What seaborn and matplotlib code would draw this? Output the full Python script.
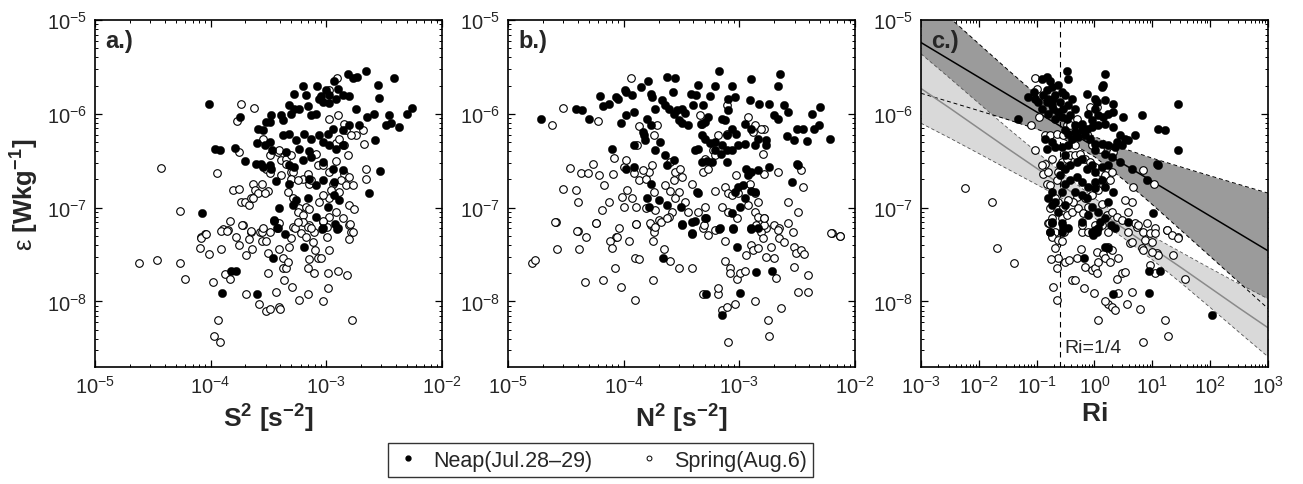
import numpy as np
import pandas as pd
import matplotlib
matplotlib.use("Agg")
import matplotlib.pyplot as plt
from matplotlib.lines import Line2D
from matplotlib.ticker import FixedLocator, NullFormatter
import seaborn as sns

# ---------------- data (log10 values) ----------------
# panel a: (log10 S^2, log10 eps)
neap_a_log = [
    (-4.017, -5.896), (-3.744, -6.035), (-3.965, -6.371), (-3.922, -6.382), (-3.793, -6.360),
    (-3.701, -6.506), (-4.072, -7.062), (-3.592, -6.159), (-3.549, -6.169), (-3.477, -6.017),
    (-3.491, -6.088), (-3.520, -6.088), (-3.391, -6.017), (-3.376, -6.063), (-3.598, -6.311),
    (-3.534, -6.336), (-3.491, -6.300), (-3.468, -6.389), (-3.606, -6.538), (-3.563, -6.530),
    (-3.549, -6.566), (-3.491, -6.541), (-3.477, -6.584), (-3.434, -6.718), (-3.325, -6.743),
    (-3.276, -5.787), (-3.204, -5.705), (-3.175, -5.804), (-3.080, -5.705), (-3.046, -5.815),
    (-3.003, -5.751), (-2.974, -5.804), (-2.931, -5.645), (-2.902, -5.733), (-2.816, -5.574),
    (-2.773, -5.617), (-2.736, -5.609), (-2.658, -5.539), (-2.549, -5.698), (-2.414, -5.620),
    (-3.319, -5.911), (-3.276, -5.946), (-3.304, -5.999), (-3.233, -5.946), (-3.161, -5.918),
    (-3.132, -6.010), (-3.089, -5.999), (-3.060, -5.840), (-3.032, -5.875), (-2.974, -5.882),
    (-2.917, -5.840), (-2.859, -5.804), (-2.802, -5.811), (-3.376, -6.229), (-3.319, -6.212),
    (-3.261, -6.283), (-3.190, -6.212), (-3.132, -6.265), (-3.060, -6.229), (-2.988, -6.212),
    (-2.945, -6.159), (-2.859, -6.176), (-2.802, -6.123), (-2.744, -5.946), (-2.715, -6.123),
    (-2.644, -6.035), (-2.586, -5.999), (-2.543, -5.833), (-3.348, -6.406), (-3.233, -6.371),
    (-3.146, -6.399), (-3.032, -6.300), (-2.974, -6.336), (-2.917, -6.371), (-2.859, -6.336),
    (-3.319, -6.548), (-3.276, -6.566), (-3.204, -6.495), (-3.132, -6.460), (-3.032, -6.513),
    (-2.945, -6.584), (-2.859, -6.601), (-3.146, -6.690), (-3.089, -6.761), (-3.032, -6.708),
    (-2.931, -6.725), (-2.894, -6.920), (-2.629, -6.839), (-2.537, -6.608), (-2.577, -6.283),
    (-2.486, -6.123), (-2.442, -6.095), (-2.371, -6.141), (-2.299, -5.999), (-2.256, -5.935),
    (-2.457, -6.010), (-3.405, -7.002), (-3.290, -6.973), (-3.261, -6.920), (-3.161, -6.902),
    (-3.089, -7.097), (-3.032, -7.221), (-2.988, -6.991), (-2.931, -6.867), (-2.902, -7.221),
    (-3.448, -7.133), (-3.420, -7.221), (-3.454, -7.143), (-3.425, -7.221), (-3.353, -7.281),
    (-3.460, -7.533), (-3.195, -7.416), (-3.040, -7.232), (-2.922, -7.179), (-2.908, -7.228),
    (-3.822, -7.675), (-3.779, -7.675), (-3.902, -7.912), (-3.598, -7.923),
]
spring_a_log = [
    (-4.431, -6.573), (-3.942, -6.626), (-4.267, -7.033), (-3.736, -5.896), (-3.629, -5.939),
    (-3.770, -6.081), (-3.756, -6.406), (-3.807, -6.807), (-3.756, -6.803), (-3.635, -6.750),
    (-3.615, -6.814), (-3.554, -6.750), (-3.500, -6.824), (-3.736, -6.945), (-3.707, -6.945),
    (-3.672, -6.973), (-3.649, -6.895), (-4.052, -7.285), (-4.080, -7.310), (-3.894, -7.232),
    (-3.850, -7.239), (-3.836, -7.143), (-3.721, -7.186), (-3.649, -7.257), (-3.572, -7.257),
    (-3.491, -7.257), (-3.549, -6.265), (-3.491, -6.442), (-3.520, -6.584), (-3.491, -6.626),
    (-3.419, -6.406), (-3.391, -6.495), (-3.348, -6.477), (-3.304, -6.619), (-2.911, -5.620),
    (-2.974, -5.741), (-2.902, -6.017), (-2.974, -6.059), (-2.845, -6.105), (-2.830, -6.176),
    (-3.089, -6.424), (-3.075, -6.541), (-3.032, -6.541), (-2.974, -6.619), (-2.917, -6.506),
    (-2.816, -6.442), (-2.845, -6.637), (-2.802, -6.672), (-2.874, -6.708), (-2.945, -6.743),
    (-2.830, -6.761), (-2.773, -6.761), (-2.888, -6.832), (-2.960, -6.814), (-2.974, -6.902),
    (-3.032, -6.867), (-3.060, -6.938), (-3.146, -6.743), (-3.204, -6.690), (-3.161, -6.637),
    (-3.132, -6.708), (-3.290, -6.619), (-3.304, -6.690), (-3.247, -6.708), (-3.233, -7.002),
    (-3.290, -6.902), (-3.333, -6.832), (-3.247, -7.044), (-3.204, -7.080), (-3.175, -6.991),
    (-3.146, -7.019), (-3.146, -7.186), (-3.103, -7.257), (-3.032, -7.150), (-2.974, -7.097),
    (-2.917, -7.044), (-2.802, -6.973), (-2.759, -7.019), (-2.802, -7.186), (-2.787, -7.257),
    (-2.687, -6.176), (-2.672, -6.318), (-2.744, -6.229), (-2.787, -6.229), (-2.658, -6.584),
    (-2.658, -6.690), (-2.917, -6.307), (-2.845, -6.329), (-2.888, -6.265), (-3.405, -6.389),
    (-3.348, -6.530), (-3.304, -6.442), (-3.391, -6.654), (-3.592, -6.849), (-3.534, -6.849),
    (-3.635, -6.902), (-4.618, -7.593), (-4.468, -7.558), (-4.261, -7.593), (-4.218, -7.760),
    (-4.095, -7.434), (-4.080, -7.328), (-4.037, -7.285), (-4.017, -7.498), (-3.914, -7.441),
    (-3.908, -7.246), (-3.859, -7.246), (-3.980, -7.788), (-3.937, -8.195), (-3.974, -8.373),
    (-3.917, -8.436), (-3.873, -7.710), (-3.836, -7.763), (-3.784, -7.310), (-3.756, -7.398),
    (-3.727, -7.186), (-3.698, -7.505), (-3.692, -7.923), (-3.669, -7.338), (-3.649, -7.250),
    (-3.641, -7.441), (-3.583, -8.029), (-3.557, -7.257), (-3.554, -7.356), (-3.520, -7.356),
    (-3.520, -8.107), (-3.491, -8.079), (-3.503, -7.480), (-3.500, -7.699), (-3.434, -7.901),
    (-3.411, -8.054), (-3.405, -7.441), (-3.399, -8.079), (-3.376, -7.533), (-3.371, -7.639),
    (-3.362, -7.770), (-3.348, -7.639), (-3.333, -7.583), (-3.319, -7.416), (-3.304, -7.328),
    (-3.296, -7.841), (-3.290, -7.204), (-3.267, -7.221), (-3.233, -7.983), (-3.218, -7.274),
    (-3.204, -7.150), (-3.175, -7.310), (-3.161, -7.204), (-3.155, -7.646), (-3.146, -7.551),
    (-3.161, -7.923), (-3.132, -7.221), (-3.118, -7.370), (-3.109, -7.699), (-3.098, -7.452),
    (-3.075, -7.540), (-3.046, -7.533), (-3.026, -7.993), (-2.997, -7.204), (-2.997, -7.310),
    (-2.988, -7.859), (-2.988, -7.699), (-2.974, -7.452), (-2.902, -7.675), (-2.822, -7.717),
    (-2.779, -8.195), (-2.773, -7.264), (-2.796, -7.179), (-2.802, -7.335), (-2.859, -7.115),
    (-3.032, -7.143), (-3.247, -7.150), (-3.405, -7.168), (-3.549, -7.221),
]

# panel b: (log10 N^2, log10 eps)
neap_b_log = [
    (-4.711, -6.052), (-4.411, -5.946), (-4.360, -5.957), (-4.297, -6.052), (-4.206, -5.811),
    (-4.183, -5.918), (-4.126, -5.893), (-4.068, -5.822), (-4.046, -5.840), (-3.988, -5.741),
    (-3.983, -5.769), (-3.926, -5.804), (-3.854, -5.716), (-3.788, -5.645), (-3.626, -5.609),
    (-3.554, -5.617), (-3.760, -5.787), (-3.754, -5.822), (-3.574, -5.769), (-3.668, -5.857),
    (-3.726, -5.946), (-3.640, -5.911), (-3.611, -5.946), (-3.568, -5.999), (-3.540, -5.964),
    (-3.497, -5.946), (-3.468, -5.988), (-3.417, -5.787), (-3.374, -5.804), (-3.354, -5.698),
    (-3.397, -5.903), (-3.311, -5.911), (-3.254, -5.811), (-3.211, -5.705), (-3.174, -5.546),
    (-3.068, -5.705), (-3.097, -5.840), (-3.040, -5.822), (-3.097, -5.964), (-3.154, -6.052),
    (-3.126, -6.070), (-3.268, -6.035), (-3.297, -6.088), (-3.331, -6.105), (-3.440, -6.123),
    (-3.497, -6.095), (-3.520, -6.070), (-2.903, -5.627), (-2.646, -5.574), (-2.668, -5.705),
    (-2.911, -5.857), (-2.826, -5.893), (-2.740, -5.893), (-2.697, -6.010), (-2.611, -5.903),
    (-2.668, -6.059), (-2.583, -5.981), (-2.368, -5.999), (-2.303, -5.928), (-2.311, -6.123),
    (-2.354, -6.159), (-2.503, -6.159), (-2.454, -6.166), (-2.588, -6.236), (-2.531, -6.283),
    (-2.417, -6.293), (-2.217, -6.272), (-2.954, -6.112), (-2.897, -6.159), (-2.840, -6.265),
    (-2.768, -6.283), (-2.768, -6.336), (-2.868, -6.329), (-2.954, -6.318), (-3.011, -6.336),
    (-3.068, -6.389), (-3.111, -6.389), (-3.160, -6.424), (-3.211, -6.300), (-3.254, -6.311),
    (-3.297, -6.265), (-3.326, -6.229), (-3.354, -6.371), (-3.383, -6.389), (-3.211, -6.389),
    (-3.154, -6.336), (-3.111, -6.229), (-3.068, -6.159), (-3.026, -6.212), (-3.911, -6.336),
    (-4.103, -6.371), (-3.911, -5.981), (-3.977, -6.010), (-4.026, -6.098), (-3.797, -6.052),
    (-3.768, -6.123), (-3.826, -6.229), (-3.817, -6.283), (-3.683, -6.300), (-3.726, -6.389),
    (-3.834, -6.194), (-3.640, -6.442), (-3.626, -6.548), (-3.568, -6.495), (-3.911, -6.566),
    (-3.983, -6.584), (-3.326, -6.513), (-3.283, -6.506), (-3.240, -6.513), (-3.103, -6.513),
    (-2.940, -6.584), (-2.897, -6.619), (-2.840, -6.601), (-2.740, -6.566), (-2.497, -6.548),
    (-2.548, -6.725), (-2.503, -6.530), (-2.926, -6.654), (-3.040, -6.832), (-3.011, -6.778),
    (-2.968, -6.761), (-2.954, -6.902), (-2.897, -6.824), (-2.868, -6.832), (-3.354, -6.849),
    (-3.368, -6.832), (-3.503, -6.991), (-3.626, -6.973), (-3.697, -6.920), (-3.797, -6.902),
    (-3.768, -6.743), (-3.783, -6.991), (-3.068, -7.062), (-2.997, -6.991), (-2.897, -7.221),
    (-2.840, -7.221), (-3.054, -7.221), (-3.168, -7.221), (-3.297, -7.115), (-3.411, -7.150),
    (-3.497, -7.186), (-3.411, -7.274), (-3.497, -7.179), (-3.383, -7.143), (-3.411, -7.285),
    (-3.288, -7.115), (-3.174, -7.228), (-3.054, -7.232), (-2.903, -7.232), (-3.020, -7.423),
    (-3.663, -7.540), (-2.860, -7.682), (-2.720, -7.675), (-3.291, -7.923), (-2.997, -7.912),
    (-3.154, -8.149),
]
spring_b_log = [
    (-3.940, -5.620), (-4.526, -5.939), (-4.617, -6.116), (-4.226, -6.081), (-3.868, -6.130),
    (-3.711, -6.116), (-3.740, -6.229), (-3.883, -6.336), (-4.083, -6.470), (-4.468, -6.573),
    (-4.263, -6.530), (-4.368, -6.626), (-4.311, -6.626), (-4.217, -6.654), (-4.091, -6.637),
    (-4.526, -6.803), (-4.411, -6.814), (-4.397, -6.945), (-4.168, -6.761), (-4.188, -7.026),
    (-4.126, -6.938), (-4.588, -7.150), (-4.397, -7.250), (-4.240, -7.168), (-3.968, -6.814),
    (-4.011, -6.885), (-3.926, -6.902), (-3.997, -6.991), (-3.897, -6.991), (-3.811, -7.009),
    (-3.731, -7.026), (-3.740, -6.832), (-3.868, -6.708), (-3.811, -6.690), (-3.783, -6.619),
    (-3.754, -6.548), (-3.834, -6.594), (-3.911, -6.626), (-3.997, -6.566), (-3.983, -6.495),
    (-3.597, -6.513), (-3.554, -6.619), (-3.511, -6.591), (-3.497, -6.672), (-3.568, -6.708),
    (-3.526, -6.832), (-3.597, -6.824), (-3.554, -6.902), (-3.468, -6.938), (-3.440, -7.044),
    (-3.583, -7.044), (-3.611, -7.097), (-3.697, -7.133), (-3.768, -7.186), (-3.897, -7.179),
    (-4.040, -7.221), (-4.068, -7.310), (-3.740, -7.221), (-3.326, -6.105), (-3.340, -6.017),
    (-3.183, -6.229), (-3.111, -6.212), (-3.106, -5.911), (-3.226, -6.389), (-3.311, -6.619),
    (-3.268, -6.584), (-3.211, -6.824), (-3.126, -6.778), (-3.097, -6.849), (-3.068, -6.867),
    (-3.011, -6.849), (-3.026, -6.654), (-2.911, -6.743), (-2.868, -6.849), (-2.840, -6.938),
    (-2.926, -6.973), (-2.868, -7.044), (-2.840, -7.097), (-2.783, -7.115), (-2.697, -7.186),
    (-2.654, -7.221), (-2.768, -7.221), (-2.583, -6.945), (-2.497, -7.044), (-2.540, -7.257),
    (-2.468, -6.601), (-2.454, -6.778), (-2.668, -6.619), (-2.783, -6.637), (-2.797, -6.424),
    (-2.783, -6.159), (-2.883, -6.194), (-2.926, -6.035), (-2.868, -6.123), (-2.811, -6.159),
    (-3.211, -7.239), (-3.311, -7.221), (-3.354, -7.044), (-3.297, -6.991), (-3.154, -6.991),
    (-3.097, -7.044), (-2.197, -7.274), (-2.126, -7.299), (-3.640, -6.761), (-3.297, -6.477),
    (-3.211, -6.442), (-3.411, -6.743), (-4.597, -7.150), (-4.403, -7.250), (-4.326, -7.310),
    (-4.240, -7.168), (-4.574, -7.441), (-4.383, -7.441), (-4.797, -7.593), (-4.768, -7.558),
    (-4.331, -7.788), (-4.177, -7.770), (-4.120, -7.356), (-4.097, -7.434), (-4.054, -7.310),
    (-4.077, -7.639), (-4.026, -7.841), (-3.954, -7.356), (-3.903, -7.533), (-3.868, -7.551),
    (-3.903, -7.983), (-3.897, -7.179), (-3.774, -7.168), (-3.740, -7.257), (-3.748, -7.356),
    (-3.731, -7.204), (-3.674, -7.150), (-3.651, -7.441), (-3.746, -7.770), (-3.597, -7.565),
    (-3.526, -7.639), (-3.411, -7.639), (-3.626, -7.115), (-3.303, -7.186), (-3.274, -7.292),
    (-3.311, -7.923), (-3.183, -7.923), (-3.183, -7.859), (-3.148, -8.089), (-3.103, -8.054),
    (-3.097, -8.436), (-3.126, -7.356), (-3.126, -7.568), (-3.083, -7.639), (-3.077, -7.699),
    (-3.040, -8.029), (-3.017, -7.763), (-2.997, -7.699), (-2.954, -7.675), (-2.940, -7.505),
    (-2.897, -7.398), (-2.868, -7.993), (-2.883, -7.452), (-2.854, -7.186), (-2.840, -7.434),
    (-2.811, -7.257), (-2.797, -7.328), (-2.788, -7.186), (-2.768, -7.522), (-2.754, -8.195),
    (-2.740, -8.373), (-2.726, -7.416), (-2.697, -7.533), (-2.683, -7.753), (-2.668, -7.239),
    (-2.654, -7.328), (-2.640, -8.071), (-2.611, -7.363), (-2.583, -7.168), (-2.526, -7.416),
    (-2.526, -7.629), (-2.511, -7.487), (-2.491, -7.894), (-2.468, -7.452), (-2.440, -7.498),
    (-2.406, -7.717), (-2.406, -7.901), (-2.206, -7.274), (-2.126, -7.299), (-3.017, -7.115),
    (-2.783, -7.115),
]

# panel c: (log10 Ri, log10 eps)
neap_c_log = [
    (-1.316, -6.052), (-1.155, -5.822), (-1.039, -5.769), (-1.028, -5.840), (-0.913, -5.627),
    (-0.826, -5.609), (-0.768, -5.645), (-0.740, -5.716), (-0.970, -5.875), (-0.884, -5.804),
    (-0.826, -5.751), (-0.797, -5.840), (-0.740, -5.911), (-0.682, -5.804), (-0.624, -5.698),
    (-0.566, -5.769), (-0.509, -5.804), (-0.451, -5.911), (-0.393, -5.840), (-0.336, -5.946),
    (-0.480, -5.539), (-0.463, -5.627), (-0.711, -5.946), (-0.624, -5.981), (-0.538, -5.946),
    (-0.566, -6.035), (-0.480, -6.052), (-0.422, -6.017), (-0.682, -6.052), (-0.797, -5.999),
    (-0.913, -5.946), (-0.826, -5.875), (-0.711, -5.840), (-0.595, -5.875), (-0.134, -5.787),
    (0.010, -5.840), (0.183, -5.574), (0.154, -5.698), (0.126, -5.709), (0.039, -5.875),
    (0.183, -5.857), (0.327, -5.893), (0.010, -5.946), (-0.105, -5.999), (-0.047, -6.070),
    (0.068, -6.017), (0.154, -6.035), (0.241, -5.999), (0.327, -5.981), (0.500, -6.035),
    (0.818, -6.010), (1.106, -6.159), (1.221, -6.169), (1.440, -5.896), (1.452, -6.382),
    (0.702, -6.222), (0.529, -6.265), (0.385, -6.300), (0.472, -6.336), (0.587, -6.283),
    (0.356, -6.353), (0.241, -6.336), (0.126, -6.318), (0.010, -6.318), (-0.076, -6.265),
    (-0.163, -6.229), (-0.220, -6.176), (-0.278, -6.247), (-0.336, -6.194), (-0.393, -6.265),
    (-0.451, -6.212), (-0.509, -6.176), (-0.336, -6.123), (-0.220, -6.105), (-0.134, -6.159),
    (-0.047, -6.141), (0.068, -6.123), (0.183, -6.105), (0.327, -6.141), (0.443, -6.229),
    (0.010, -6.389), (0.183, -6.424), (0.299, -6.460), (0.443, -6.513), (0.645, -6.584),
    (0.904, -6.708), (1.077, -6.530), (1.106, -6.548), (-0.855, -6.265), (-0.740, -6.300),
    (-0.682, -6.353), (-0.826, -6.371), (-0.566, -6.353), (-0.451, -6.336), (-0.509, -6.442),
    (-0.595, -6.548), (-0.509, -6.584), (-0.422, -6.548), (-0.307, -6.513), (-0.220, -6.477),
    (-0.134, -6.584), (-0.047, -6.548), (0.010, -6.619), (0.126, -6.566), (0.241, -6.548),
    (0.126, -6.708), (0.010, -6.725), (-0.105, -6.778), (-0.220, -6.725), (-0.307, -6.672),
    (-0.422, -6.708), (-0.509, -6.743), (-0.595, -6.654), (-0.740, -6.832), (-0.797, -6.902),
    (-0.740, -6.973), (-0.682, -6.938), (-0.624, -7.044), (-0.566, -6.832), (-0.509, -6.973),
    (-0.336, -6.832), (-0.220, -6.867), (-0.134, -6.902), (-0.047, -6.991), (0.010, -6.796),
    (0.183, -6.778), (0.327, -6.832), (0.241, -6.938), (0.068, -7.044), (-0.105, -7.080),
    (-0.220, -7.150), (-0.451, -7.221), (-0.566, -7.257), (-0.740, -7.150), (-0.768, -7.257),
    (-0.047, -7.257), (0.068, -7.221), (0.183, -7.115), (0.356, -7.221), (0.587, -7.150),
    (1.019, -7.062), (-0.740, -7.168), (-0.566, -7.168), (-0.538, -7.204), (-0.174, -7.540),
    (-0.019, -7.292), (0.010, -7.239), (0.039, -7.257), (0.183, -7.416), (0.241, -7.434),
    (0.287, -7.186), (0.097, -7.150), (0.327, -7.923), (0.944, -7.675), (1.135, -7.675),
    (0.944, -7.912), (2.029, -8.149),
]
spring_c_log = [
    (-1.028, -5.620), (-0.999, -5.733), (-1.097, -6.116), (-0.959, -6.035), (-0.855, -6.229),
    (-0.768, -6.222), (-0.653, -6.212), (-0.538, -6.229), (-0.480, -6.123), (-0.422, -6.123),
    (-0.307, -6.052), (-0.076, -5.928), (0.039, -5.928), (-0.192, -6.229), (-0.134, -6.212),
    (-0.336, -6.336), (-0.047, -6.336), (0.097, -6.371), (0.327, -6.406), (-0.855, -6.530),
    (-0.884, -6.637), (-0.797, -6.619), (-0.826, -6.743), (-0.768, -6.761), (-0.653, -6.708),
    (-0.624, -6.619), (-0.566, -6.513), (-0.480, -6.477), (-0.422, -6.442), (-0.336, -6.442),
    (-0.249, -6.424), (-0.163, -6.477), (-0.076, -6.513), (0.010, -6.566), (0.097, -6.619),
    (0.183, -6.654), (0.299, -6.619), (0.270, -6.708), (0.154, -6.761), (0.068, -6.814),
    (-0.047, -6.867), (-0.163, -6.902), (-0.307, -6.885), (-0.365, -6.938), (-0.451, -6.920),
    (-0.538, -6.991), (-0.624, -6.938), (-0.682, -6.902), (-0.768, -7.009), (-0.740, -7.115),
    (-0.809, -7.168), (-0.682, -7.257), (-0.566, -7.115), (-0.480, -7.080), (-0.393, -7.044),
    (-0.278, -7.009), (-0.192, -7.062), (-0.105, -6.991), (0.126, -6.956), (0.212, -7.080),
    (0.299, -7.044), (0.385, -7.097), (0.472, -7.133), (0.587, -7.044), (0.645, -6.938),
    (0.846, -6.601), (1.037, -6.743), (0.673, -6.778), (0.529, -6.920), (0.731, -7.203),
    (0.846, -7.257), (1.048, -7.221), (1.250, -7.239), (1.452, -7.310), (-2.239, -6.796),
    (-1.766, -6.945), (-1.028, -6.389), (-0.740, -6.477), (-0.913, -6.548), (0.010, -7.186),
    (-0.220, -7.257), (0.241, -7.257), (-1.680, -7.434), (-1.385, -7.593), (-0.786, -7.168),
    (-0.768, -7.257), (-0.740, -7.310), (-0.682, -7.434), (-0.624, -7.345), (-0.566, -7.356),
    (-0.520, -7.257), (-0.624, -7.540), (-0.751, -7.547), (-0.509, -7.575), (-0.440, -7.558),
    (-0.307, -7.540), (-0.232, -7.441), (-0.642, -7.639), (-0.711, -7.841), (-0.653, -7.983),
    (-0.393, -7.770), (-0.336, -7.770), (-0.174, -7.852), (-0.163, -7.629), (-0.047, -7.664),
    (0.010, -7.639), (0.039, -7.699), (0.068, -7.575), (0.039, -7.469), (0.154, -7.498),
    (0.183, -7.540), (0.270, -7.575), (0.241, -7.416), (0.299, -7.452), (0.385, -7.763),
    (0.414, -7.533), (0.472, -7.699), (0.529, -7.682), (0.587, -7.257), (0.616, -7.381),
    (0.645, -7.363), (0.702, -7.168), (0.760, -7.186), (0.818, -7.434), (0.846, -7.452),
    (0.875, -7.345), (0.916, -7.168), (0.962, -7.274), (0.991, -7.363), (1.048, -7.274),
    (1.077, -7.487), (1.106, -7.505), (0.962, -7.611), (1.048, -7.699), (0.991, -7.469),
    (1.250, -7.239), (1.337, -7.292), (1.365, -7.505), (1.452, -7.328), (1.567, -7.760),
    (0.645, -7.894), (0.414, -7.912), (0.241, -8.029), (0.299, -8.054), (0.356, -8.089),
    (0.558, -8.029), (0.789, -8.079), (1.221, -8.195), (1.279, -8.373), (0.846, -8.436),
    (0.056, -8.195), (-0.001, -7.912), (0.183, -8.000), (0.126, -7.186), (-0.105, -7.257),
    (-0.220, -7.186),
]

# regression fits of log10(eps) on log10(Ri) with confidence bands
fit_logRi = [-3.0, -2.5, -2.0, -1.5, -1.0, -0.5, 0.0, 0.5, 1.0, 1.5, 2.0, 2.5, 3.0]
neap_fit = [-5.24, -5.425, -5.61, -5.795, -5.98, -6.165, -6.35, -6.535, -6.72, -6.905, -7.09, -7.275, -7.46]
neap_hi = [-4.699, -4.977, -5.254, -5.529, -5.798, -6.050, -6.243, -6.369, -6.473, -6.567, -6.661, -6.753, -6.845]
neap_lo = [-5.781, -5.873, -5.966, -6.061, -6.162, -6.280, -6.457, -6.701, -6.967, -7.243, -7.519, -7.797, -8.075]
spring_fit = [-5.73, -5.94, -6.155, -6.37, -6.58, -6.79, -7.005, -7.22, -7.43, -7.64, -7.855, -8.07, -8.28]
spring_hi = [-5.36, -5.621, -5.887, -6.151, -6.407, -6.658, -6.900, -7.118, -7.305, -7.476, -7.646, -7.812, -7.971]
spring_lo = [-6.10, -6.259, -6.423, -6.589, -6.753, -6.922, -7.110, -7.322, -7.555, -7.804, -8.064, -8.328, -8.589]

ri_crit = 0.25
panel_letters = ["a.)", "b.)", "c.)"]
x_labels = [r"$\mathbf{S^2\ [s^{-2}]}$", r"$\mathbf{N^2\ [s^{-2}]}$", r"$\mathbf{Ri}$"]
legend_labels = ["Neap(Jul.28\u201329)", "Spring(Aug.6)"]
x_decades = [[-5, -4, -3, -2], [-5, -4, -3, -2], [-3, -2, -1, 0, 1, 2, 3]]
y_decades = [-8, -7, -6, -5]

# ---------------- styling ----------------
sns.set_theme(style="ticks")
plt.rcParams["font.family"] = ["Liberation Sans", "DejaVu Sans"]
plt.rcParams["mathtext.fontset"] = "custom"
plt.rcParams["mathtext.rm"] = "Liberation Sans"
plt.rcParams["mathtext.bf"] = "Liberation Sans:bold"
plt.rcParams["mathtext.it"] = "Liberation Sans:italic"
plt.rcParams["axes.linewidth"] = 1.2
plt.rcParams["axes.edgecolor"] = "black"


def to_df(pairs, xname):
    arr = np.array(pairs)
    return pd.DataFrame({xname: 10 ** arr[:, 0], "eps": 10 ** arr[:, 1]})


def minor_positions(d0, d1, lo, hi):
    vals = []
    for d in range(d0 - 1, d1 + 1):
        for m in range(2, 10):
            v = m * 10.0 ** d
            if lo < v < hi:
                vals.append(v)
    return vals


fig = plt.figure(figsize=(13.03, 4.85), dpi=100)
lefts = [0.0729, 0.3899, 0.7068]
axes = [fig.add_axes([l, 0.2412, 0.2663, 0.7155]) for l in lefts]

panels = [
    (neap_a_log, spring_a_log, (1e-5, 1e-2)),
    (neap_b_log, spring_b_log, (1e-5, 1e-2)),
    (neap_c_log, spring_c_log, (1e-3, 1e3)),
]
ylim = (2e-9, 1e-5)

for i, (ax, (nlog, slog, xlim)) in enumerate(zip(axes, panels)):
    ax.set_xscale("log")
    ax.set_yscale("log")
    if i == 2:
        xr = 10 ** np.array(fit_logRi)
        ax.fill_between(xr, 10 ** np.array(neap_lo), 10 ** np.array(neap_hi),
                        color="#9b9b9b", lw=0, zorder=1)
        ax.fill_between(xr, 10 ** np.array(spring_lo), 10 ** np.array(spring_hi),
                        color="#d9d9d9", lw=0, zorder=1.1)
        for arr in (neap_lo, neap_hi):
            ax.plot(xr, 10 ** np.array(arr), color="black", lw=0.7, ls=(0, (4, 3)), zorder=1.3)
        for arr in (spring_lo, spring_hi):
            ax.plot(xr, 10 ** np.array(arr), color="#555555", lw=0.6, ls=(0, (4, 3)), zorder=1.2)
        fitdf = pd.DataFrame({"Ri": xr, "neap": 10 ** np.array(neap_fit),
                              "spring": 10 ** np.array(spring_fit)})
        sns.lineplot(data=fitdf, x="Ri", y="neap", ax=ax, color="black", lw=1.1, zorder=1.5)
        sns.lineplot(data=fitdf, x="Ri", y="spring", ax=ax, color="#8a8a8a", lw=1.1, zorder=1.5)
        ax.axvline(ri_crit, color="black", lw=0.8, ls=(0, (5, 4)), zorder=1.6)
        ax.text(0.3, 3.2e-9, "Ri=1/4", fontsize=14, ha="left", va="center")
    xname = "x"
    sdf = to_df(slog, xname)
    ndf = to_df(nlog, xname)
    sns.scatterplot(data=sdf, x=xname, y="eps", ax=ax, s=30, facecolor="white",
                    edgecolor="black", linewidth=0.8, zorder=3, legend=False)
    sns.scatterplot(data=ndf, x=xname, y="eps", ax=ax, s=36, color="black",
                    edgecolor="black", linewidth=0.3, zorder=4, legend=False)
    ax.set_xlim(*xlim)
    ax.set_ylim(*ylim)
    ax.set_xlabel(x_labels[i], fontsize=19, labelpad=3)
    ax.set_ylabel("")
    xd = x_decades[i]
    ax.xaxis.set_major_locator(FixedLocator([10.0 ** d for d in xd]))
    ax.xaxis.set_minor_locator(FixedLocator(minor_positions(xd[0], xd[-1], *xlim)))
    ax.xaxis.set_minor_formatter(NullFormatter())
    ax.yaxis.set_major_locator(FixedLocator([10.0 ** d for d in y_decades]))
    ax.yaxis.set_minor_locator(FixedLocator(minor_positions(y_decades[0], y_decades[-1], *ylim)))
    ax.yaxis.set_minor_formatter(NullFormatter())
    ax.tick_params(which="both", direction="in", top=True, right=True, color="black")
    ax.tick_params(which="major", length=5, width=0.9, labelsize=14.5, pad=6)
    ax.tick_params(which="minor", length=2.5, width=0.7)
    ax.text(0.03, 0.975, panel_letters[i], transform=ax.transAxes, fontsize=17,
            fontweight="bold", ha="left", va="top")
    for sp in ax.spines.values():
        sp.set_visible(True)
        sp.set_color("black")

axes[0].set_ylabel("\u03b5 " + r"$\mathbf{[Wkg^{-1}]}$", fontsize=18.5, labelpad=4)

handles = [
    Line2D([], [], ls="none", marker="o", markersize=3.5, markerfacecolor="black",
           markeredgecolor="black"),
    Line2D([], [], ls="none", marker="o", markersize=3.5, markerfacecolor="white",
           markeredgecolor="black", markeredgewidth=0.7),
]
leg = fig.legend(handles, legend_labels, loc="center", bbox_to_anchor=(0.461, 0.049),
                 ncol=2, fontsize=15.5, frameon=True, fancybox=False, edgecolor="black",
                 handletextpad=0.5, columnspacing=2.0, borderpad=0.3, handlelength=1.3,
                 borderaxespad=0.0)
leg.get_frame().set_linewidth(1.0)

fig.savefig("out.png", dpi=100)
